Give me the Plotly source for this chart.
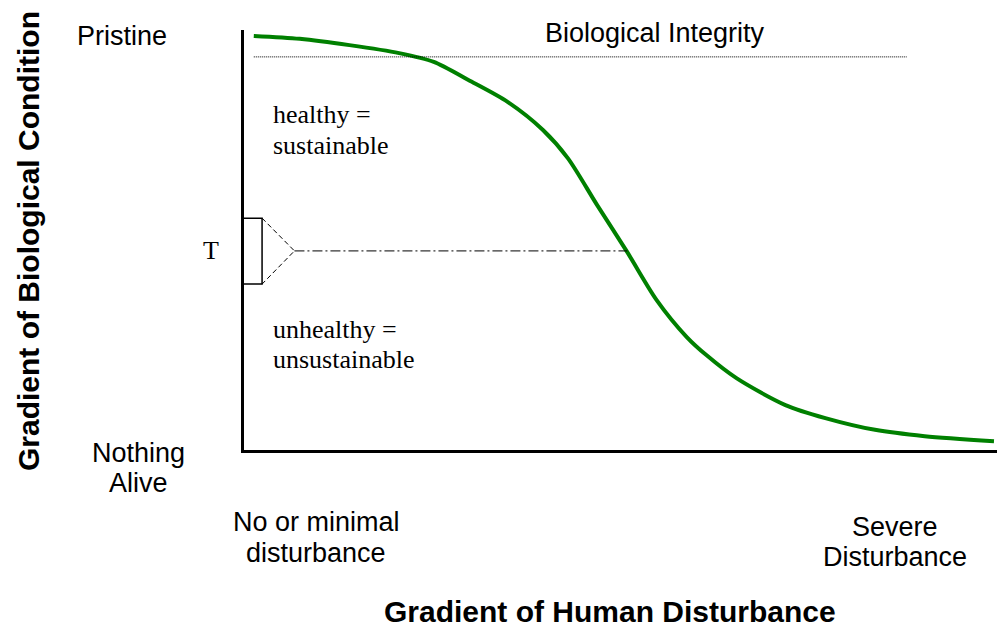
import plotly.graph_objects as go

# Data (abstract units: x 0-10 disturbance, y 0-10 condition)
curve_x = [0.13, 0.74, 1.40, 2.06, 2.52, 2.98, 3.50, 3.97, 4.30, 4.69, 5.09, 5.48, 5.88, 6.14, 6.54, 7.19, 7.72, 8.38, 9.04, 9.96]
curve_y = [9.86, 9.79, 9.64, 9.45, 9.24, 8.81, 8.29, 7.62, 6.95, 5.83, 4.71, 3.57, 2.69, 2.26, 1.71, 1.07, 0.76, 0.48, 0.33, 0.21]

integrity_x = [0.13, 8.80]
integrity_y = 9.36

t_box_x = [0.0, 0.24]
t_box_y = [3.95, 5.52]
t_apex = [0.67, 4.74]
t_line_end_x = 5.09

# Layout geometry (page pixels; page body has an 8px margin)
W, H = 989, 619
L, R, T, B = 236, 0, 22, 177
PW, PH = W - L - R, H - T - B


def px(x):
    return (x - 8 - L) / PW


def py(y):
    return (H - B - (y - 8)) / PH


fig = go.Figure()

fig.add_trace(go.Scatter(x=curve_x, y=curve_y, mode="lines",
                         line=dict(color="#008000", width=4, shape="spline", smoothing=0.8),
                         hoverinfo="skip", showlegend=False, cliponaxis=False))

fig.add_trace(go.Scatter(x=integrity_x, y=[integrity_y, integrity_y], mode="lines",
                         line=dict(color="black", width=1, dash="1px,1px"),
                         hoverinfo="skip", showlegend=False))

fig.add_trace(go.Scatter(x=[t_box_x[0], t_box_x[1], t_box_x[1], t_box_x[0]],
                         y=[t_box_y[1], t_box_y[1], t_box_y[0], t_box_y[0]], mode="lines",
                         line=dict(color="black", width=1.5),
                         hoverinfo="skip", showlegend=False))
fig.add_trace(go.Scatter(x=[t_box_x[1], t_apex[0], t_box_x[1]],
                         y=[t_box_y[1], t_apex[1], t_box_y[0]], mode="lines",
                         line=dict(color="black", width=1, dash="5px,3px"),
                         hoverinfo="skip", showlegend=False))
fig.add_trace(go.Scatter(x=[t_apex[0], t_line_end_x], y=[t_apex[1], t_apex[1]], mode="lines",
                         line=dict(color="black", width=1, dash="10px,3px,2px,3px"),
                         hoverinfo="skip", showlegend=False))

ARIAL = "Liberation Sans, Arial, sans-serif"
TIMES = "Liberation Serif, Times New Roman, serif"

# (text, page x, page y, family, size, xanchor, angle)
labels = [
    ("Pristine", 122, 36, ARIAL, 27, "center", 0),
    ("Biological Integrity", 655, 33, ARIAL, 27, "center", 0),
    ("healthy =", 271, 115, TIMES, 26, "left", 0),
    ("sustainable", 271, 145, TIMES, 26, "left", 0),
    ("T", 211, 250, TIMES, 26, "center", 0),
    ("unhealthy =", 271, 329, TIMES, 26, "left", 0),
    ("unsustainable", 271, 359, TIMES, 26, "left", 0),
    ("Nothing", 138, 453, ARIAL, 27, "center", 0),
    ("Alive", 138, 483, ARIAL, 27, "center", 0),
    ("No or minimal", 316, 522, ARIAL, 27, "center", 0),
    ("disturbance", 316, 553, ARIAL, 27, "center", 0),
    ("Severe", 895, 527, ARIAL, 27, "center", 0),
    ("Disturbance", 895, 557, ARIAL, 27, "center", 0),
    ("<b>Gradient of Human Disturbance</b>", 610, 611, ARIAL, 30, "center", 0),
    ("<b>Gradient of Biological Condition</b>", 28, 241, ARIAL, 30, "center", -90),
]

annotations = []
for text, x, y, fam, size, xa, ang in labels:
    annotations.append(dict(text=text, x=px(x), y=py(y), xref="paper", yref="paper",
                            showarrow=False, xanchor=xa, yanchor="middle", textangle=ang,
                            font=dict(family=fam, size=size, color="black")))

fig.update_layout(
    width=W, height=H,
    margin=dict(l=L, r=R, t=T, b=B, pad=0),
    paper_bgcolor="white", plot_bgcolor="white",
    annotations=annotations,
    xaxis=dict(range=[0, 10], showgrid=False, zeroline=False, showticklabels=False,
               showline=True, linecolor="black", linewidth=3, ticks="", fixedrange=True),
    yaxis=dict(range=[0, 10], showgrid=False, zeroline=False, showticklabels=False,
               showline=True, linecolor="black", linewidth=3, ticks="", fixedrange=True),
)

fig.write_html("out.html")
